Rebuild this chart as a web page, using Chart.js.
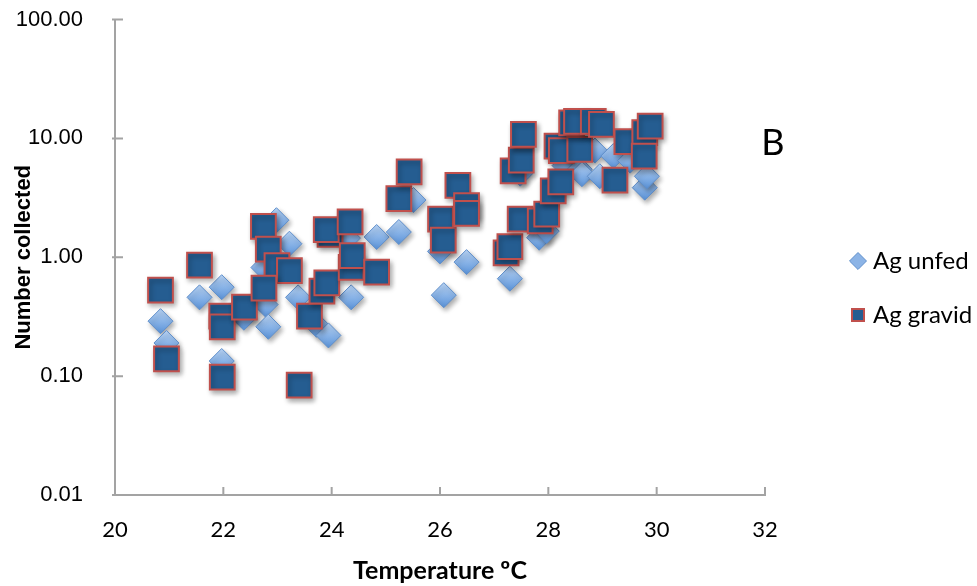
<!DOCTYPE html>
<html><head><meta charset="utf-8">
<script src="https://cdn.jsdelivr.net/npm/chart.js@4"></script>
<style>html,body{margin:0;padding:0;background:#fff}canvas{display:block}</style>
</head><body>
<canvas id="c" width="977" height="586"></canvas>
<script>
const seriesNames = ['Ag unfed', 'Ag gravid'];
const unfedTemp  = [20.84, 20.95, 21.56, 21.97, 21.97, 22.38, 22.74, 22.78, 22.83, 22.98, 23.22, 23.38, 23.72, 23.94, 24.30, 24.36, 24.83, 25.24, 25.51, 26.00, 26.07, 26.49, 27.29, 27.48, 27.83, 27.97, 28.30, 28.58, 28.62, 28.86, 28.95, 29.20, 29.51, 29.78, 29.82];
const unfedCount = [0.29, 0.19, 0.46, 0.56, 0.134, 0.31, 0.82, 0.40, 0.26, 2.05, 1.30, 0.46, 0.27, 0.22, 1.45, 0.46, 1.48, 1.63, 3.03, 1.12, 0.48, 0.91, 0.66, 5.05, 1.46, 1.66, 5.9, 5.5, 5.0, 7.9, 4.8, 7.1, 6.5, 3.85, 4.8];
const gravidTemp  = [20.84, 20.95, 21.56, 21.97, 21.98, 21.98, 22.39, 22.74, 22.83, 22.99, 23.22, 22.75, 23.40, 23.59, 23.82, 23.91, 23.97, 23.90, 24.34, 24.36, 24.38, 24.83, 25.24, 25.43, 26.01, 26.06, 26.33, 26.49, 26.49, 27.22, 27.29, 27.35, 27.50, 27.54, 27.48, 27.85, 27.97, 28.09, 28.23, 28.16, 28.24, 28.58, 28.43, 28.52, 28.83, 28.98, 29.23, 29.45, 29.78, 29.88, 29.77];
const gravidCount = [0.53, 0.14, 0.86, 0.32, 0.26, 0.098, 0.38, 1.82, 1.17, 0.85, 0.77, 0.55, 0.084, 0.32, 0.52, 0.61, 1.56, 1.71, 1.98, 0.82, 1.03, 0.75, 3.11, 5.22, 2.09, 1.39, 4.03, 2.72, 2.34, 1.09, 1.23, 5.32, 6.55, 10.8, 2.09, 2.02, 2.31, 3.61, 4.30, 8.6, 7.9, 8.1, 13.5, 13.9, 13.9, 13.1, 4.45, 9.4, 11.2, 12.7, 7.1];
const xTicks = [20, 22, 24, 26, 28, 30, 32];
const yTicks = [0.01, 0.1, 1, 10, 100];
const xTitle = 'Temperature ºC';
const yTitle = 'Number collected';
const panelLabel = 'B';

const AXIS = '#A3A3A3';
const UNFED_SOLID = '#8CB4E6';
const UNFED_TOP = '#B9D4F5';
const UNFED_BOT = '#5A93D9';
const UNFED_EDGE = '#5F8FCB';
const GRAVID_FILL = '#255D91';
const GRAVID_EDGE = '#C0504D';

function unfedFill(c) {
  const ch = c.chart;
  const ys = ch.scales && ch.scales.y;
  if (c.type !== 'data' || !ys || !c.parsed) return UNFED_SOLID;
  const py = ys.getPixelForValue(c.parsed.y);
  if (!isFinite(py)) return UNFED_SOLID;
  try {
    const g = ch.ctx.createLinearGradient(0, py - 12.5, 0, py + 12.5);
    g.addColorStop(0, UNFED_TOP);
    g.addColorStop(1, UNFED_BOT);
    return g;
  } catch (e) { return UNFED_SOLID; }
}

const innerTicks = {
  id: 'innerTicks',
  beforeDatasetsDraw(chart) {
    const {ctx, chartArea: a, scales: {x, y}} = chart;
    ctx.save();
    ctx.strokeStyle = AXIS; ctx.lineWidth = 2;
    ctx.beginPath();
    x.ticks.forEach(t => { const px = x.getPixelForValue(t.value); ctx.moveTo(px, a.bottom); ctx.lineTo(px, a.bottom - 8); });
    y.ticks.forEach(t => { const py = y.getPixelForValue(t.value); ctx.moveTo(a.left - 3, py); ctx.lineTo(a.left + 8, py); });
    ctx.stroke();
    ctx.restore();
  }
};
const shadow = {
  id: 'shadow',
  beforeDatasetsDraw(chart) {
    const c = chart.ctx; c.save();
    c.shadowColor = 'rgba(0,0,0,0.33)'; c.shadowBlur = 5; c.shadowOffsetX = 2; c.shadowOffsetY = 3;
  },
  afterDatasetsDraw(chart) { chart.ctx.restore(); }
};
const panelText = {
  id: 'panelText',
  afterDraw(chart) {
    const c = chart.ctx; c.save();
    c.font = '36px Lato'; c.fillStyle = '#000'; c.textAlign = 'center'; c.textBaseline = 'middle';
    c.fillText(panelLabel, 773, 143);
    c.restore();
  }
};

new Chart(document.getElementById('c'), {
  type: 'scatter',
  data: {
    datasets: [
      { label: seriesNames[0], data: unfedTemp.map((t, i) => ({x: t, y: unfedCount[i]})),
        pointStyle: 'rectRot', pointRadius: 12.5, pointHoverRadius: 12.5,
        backgroundColor: unfedFill, borderColor: UNFED_EDGE, borderWidth: 1, order: 2 },
      { label: seriesNames[1], data: gravidTemp.map((t, i) => ({x: t, y: gravidCount[i]})),
        pointStyle: 'rect', pointRadius: 17.5, pointHoverRadius: 17.5,
        backgroundColor: GRAVID_FILL, borderColor: GRAVID_EDGE, borderWidth: 2, order: 1 }
    ]
  },
  options: {
    responsive: false, animation: false, devicePixelRatio: 1, events: [],
    layout: {padding: {left: 0, top: 18, right: 0, bottom: 28}},
    plugins: {
      tooltip: {enabled: false},
      legend: {
        position: 'right', align: 'center', maxWidth: 152,
        labels: {
          usePointStyle: true, boxWidth: 6, boxHeight: 12, padding: 30, color: '#000',
          font: {family: 'Lato', size: 24},
          sort: (a, b) => a.datasetIndex - b.datasetIndex,
          generateLabels(chart) {
            const items = Chart.defaults.plugins.legend.labels.generateLabels(chart);
            items.forEach(it => { if (it.datasetIndex === 0) it.fillStyle = UNFED_SOLID; });
            return items;
          }
        }
      }
    },
    scales: {
      x: {
        type: 'linear', position: 'bottom', min: 20, max: 32,
        afterBuildTicks: s => { s.ticks = xTicks.map(v => ({value: v})); },
        afterFit: s => { s.height = 63; },
        grid: {display: true, drawOnChartArea: false, drawTicks: false},
        border: {display: true, color: AXIS, width: 2},
        ticks: {padding: 22, color: '#000', font: {family: 'Lato', size: 22}, callback: v => String(v)},
        title: {display: true, text: xTitle, color: '#000', font: {family: 'Lato', size: 25, weight: 'bold'}, padding: {top: 0, bottom: -28}}
      },
      y: {
        type: 'logarithmic', position: 'left', min: 0.01, max: 100,
        afterBuildTicks: s => { s.ticks = yTicks.map(v => ({value: v})); },
        afterFit: s => { s.width = 115; s.paddingTop = 0; s.paddingBottom = 0; },
        grid: {display: true, drawOnChartArea: false, drawTicks: false},
        border: {display: true, color: AXIS, width: 2},
        ticks: {padding: 32, color: '#000', font: {family: 'Liberation Sans', size: 22}, callback: v => Number(v).toFixed(2)},
        title: {display: true, text: yTitle, color: '#000', font: {family: 'Liberation Sans', size: 22, weight: 'bold'}, padding: {top: 11, bottom: 0}}
      },
      yR: {
        type: 'linear', position: 'right', display: true,
        grid: {display: false, drawTicks: false}, border: {display: false}, ticks: {display: false},
        afterFit: s => { s.width = 60; }
      }
    }
  },
  plugins: [innerTicks, shadow, panelText]
});
</script>
</body></html>
